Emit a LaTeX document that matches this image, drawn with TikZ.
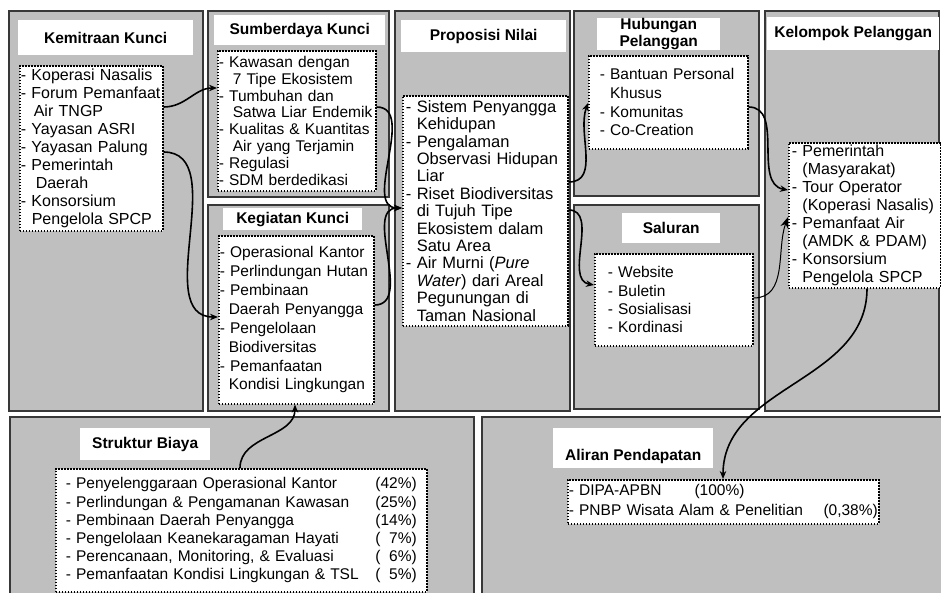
\documentclass[tikz,border=0pt]{standalone}
\usepackage{fontspec}
\setmainfont{Liberation Sans}
\usetikzlibrary{arrows.meta}

\begin{document}
\begin{tikzpicture}[x=1pt,y=-1pt,
    panel/.style={draw=black!78,line width=1.4pt,fill=black!25},
    head node/.style={fill=white,inner sep=0pt,anchor=north west,align=center,font=\bfseries\fontsize{15.5}{17}\selectfont},
    list node/.style={draw,fill=white,line width=1.6pt,dash pattern=on 1.6pt off 1.4pt,anchor=north west,align=left,inner ysep=0pt,font=\fontsize{15.5}{18}\selectfont},
    link/.style={line width=1.6pt,-{Stealth[length=8pt,width=6.5pt]}}]
  \useasboundingbox (0,0) rectangle (941,592);
  \clip (0,0) rectangle (941,592);
  \draw[panel] (9,11) rectangle (203,411);
  \draw[panel] (208,11) rectangle (389,197);
  \draw[panel] (208,205) rectangle (389,411);
  \draw[panel] (395,11) rectangle (570,411);
  \draw[panel] (574,11) rectangle (759,196);
  \draw[panel] (574,205) rectangle (759,409);
  \draw[panel] (765,11) rectangle (939,411);
  \draw[panel] (10,417) rectangle (474,605);
  \draw[panel] (482,417) rectangle (950,605);

  \node[head node,minimum width=175pt,minimum height=35pt] (t1) at (18,20) {Kemitraan Kunci};
  \node[head node,minimum width=171pt,minimum height=30pt] (t2) at (214,15) {Sumberdaya Kunci};
  \node[head node,minimum width=139pt,minimum height=22pt] (t3) at (223,208) {Kegiatan Kunci};
  \node[head node,minimum width=165pt,minimum height=32pt] (t4) at (401,20) {Proposisi Nilai};
  \node[head node,minimum width=123pt,minimum height=32pt] (t5) at (597,18) {Hubungan\\Pelanggan};
  \node[head node,minimum width=98pt,minimum height=30pt] (t6) at (622,213) {Saluran};
  \node[head node,minimum width=172pt,minimum height=33pt] (t7) at (767,17) {Kelompok Pelanggan};
  \node[head node,minimum width=130pt,minimum height=32pt] (t8) at (80,428) {Struktur Biaya};
  \node[head node,minimum width=160pt,minimum height=40pt,text height=28pt,text depth=3pt] (t9) at (553,428) {Aliran Pendapatan};

  \node[list node,inner xsep=1pt,text width=141pt,minimum height=165pt,font=\fontsize{16}{18}\selectfont] (1) at (19,65)
    {- Koperasi Nasalis\\- Forum Pemanfaat\\\hspace*{13pt}Air TNGP\\- Yayasan ASRI\\- Yayasan Palung\\- Pemerintah\\\hspace*{15pt}Daerah\\- Konsorsium\\\hspace*{11pt}Pengelola SPCP};
  \node[list node,inner xsep=1pt,text width=156pt,minimum height=140pt,font=\fontsize{15.5}{16.8}\selectfont] (2) at (217,50)
    {- Kawasan dengan\\\hspace*{14pt}7 Tipe Ekosistem\\- Tumbuhan dan\\\hspace*{14pt}Satwa Liar Endemik\\- Kualitas \& Kuantitas\\\hspace*{14pt}Air yang Terjamin\\- Regulasi\\- SDM berdedikasi};
  \node[list node,inner xsep=1pt,text width=153pt,minimum height=168pt,font=\fontsize{15.5}{18.9}\selectfont] (3) at (218,235)
    {- Operasional Kantor\\- Perlindungan Hutan\\- Pembinaan\\\hspace*{9pt}Daerah Penyangga\\- Pengelolaan\\\hspace*{9pt}Biodiversitas\\- Pemanfaatan\\\hspace*{9pt}Kondisi Lingkungan};
  \node[list node,inner xsep=3pt,inner ysep=2pt,text width=159pt,minimum height=230pt,font=\fontsize{16.5}{17.4}\selectfont] (4) at (402,95)
    {- Sistem Penyangga\\\phantom{- }Kehidupan\\- Pengalaman\\\phantom{- }Observasi Hidupan\\\phantom{- }Liar\\- Riset Biodiversitas\\\phantom{- }di Tujuh Tipe\\\phantom{- }Ekosistem dalam\\\phantom{- }Satu Area\\- Air Murni (\emph{Pure}\\\phantom{- }\emph{Water}) dari Areal\\\phantom{- }Pegunungan di\\\phantom{- }Taman Nasional};
  \node[list node,inner xsep=11pt,text width=137pt,minimum height=93pt,font=\fontsize{15.5}{18.7}\selectfont] (5) at (588,55)
    {- Bantuan Personal\\\phantom{- }Khusus\\- Komunitas\\- Co-Creation};
  \node[list node,inner xsep=13pt,text width=132pt,minimum height=92pt,font=\fontsize{15.5}{18.3}\selectfont] (6) at (594,253)
    {- Website\\- Buletin\\- Sosialisasi\\- Kordinasi};
  \node[list node,inner xsep=3pt,text width=146pt,minimum height=145pt,font=\fontsize{16}{18}\selectfont] (7) at (788,142)
    {- Pemerintah\\\phantom{- }(Masyarakat)\\- Tour Operator\\\phantom{- }(Koperasi Nasalis)\\- Pemanfaat Air\\\phantom{- }(AMDK \& PDAM)\\- Konsorsium\\\phantom{- }Pengelola SPCP};
  \node[list node,inner xsep=10pt,text width=351pt,minimum height=123pt,font=\fontsize{15.5}{18.2}\selectfont] (8) at (55,468)
    {- Penyelenggaraan Operasional Kantor\hfill(42\%)\\- Perlindungan \& Pengamanan Kawasan\hfill(25\%)\\- Pembinaan Daerah Penyangga\hfill(14\%)\\- Pengelolaan Keanekaragaman Hayati\hfill(\hphantom{0}7\%)\\- Perencanaan, Monitoring, \& Evaluasi\hfill(\hphantom{0}6\%)\\- Pemanfaatan Kondisi Lingkungan \& TSL\hfill(\hphantom{0}5\%)};
  \node[list node,inner xsep=1pt,text width=309pt,minimum height=44pt,font=\fontsize{15.5}{20}\selectfont] (9) at (567,479)
    {- DIPA-APBN\hspace{33pt}(100\%)\\- PNBP Wisata Alam \& Penelitian\hfill(0,38\%)\hspace*{4pt}};

  \path[link]
    ([yshift=-42pt]1.north east) edge[out=0,in=180] ([yshift=-38pt]2.north west)
    ([yshift=-87pt]1.north east) edge[out=0,in=180] ([yshift=-82pt]3.north west)
    ([yshift=-57pt]2.north east) edge[out=0,in=180] ([yshift=-113pt]4.north west)
    ([yshift=-70pt]3.north east) edge[out=0,in=180] ([yshift=-113pt]4.north west)
    ([yshift=-87pt]4.north east) edge[out=0,in=250] ([yshift=-48pt]5.north west)
    ([yshift=-115pt]4.north east) edge[out=0,in=170] ([yshift=-32pt]6.north west)
    ([yshift=-52pt]5.north east) edge[out=0,in=170] ([yshift=-48pt]7.north west)
    ([yshift=-45pt]6.north east) edge[out=0,in=250,line width=1pt,-{Stealth[length=11pt,width=8pt]}] ([yshift=-75pt]7.north west)
    ([xshift=79pt]7.south west) edge[out=270,in=90] ([xshift=156pt]9.north west)
    ([xshift=185pt]8.north west) edge[out=90,in=270] ([xshift=77pt]3.south west);
\end{tikzpicture}
\end{document}
